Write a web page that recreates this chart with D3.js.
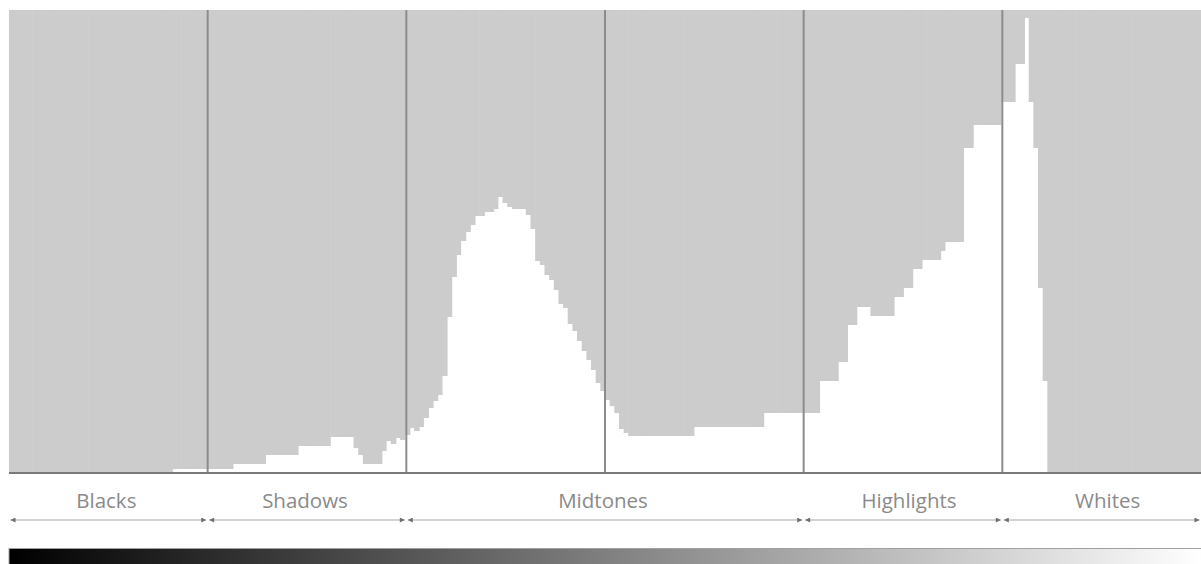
<!DOCTYPE html>
<html><head><meta charset="utf-8">
<script src="https://cdn.jsdelivr.net/npm/d3@7"></script>
<style>html,body{margin:0;padding:0;background:#fff;}svg{display:block;}</style>
</head><body>
<script>
// Histogram counts for tonal levels 0..255 (relative heights)
const counts = [
0,0,0,0,0,0,0,0,0,0,0,0,0,0,0,0,
0,0,0,0,0,0,0,0,0,0,0,0,0,0,0,0,
0,0,0,4,4,4,4,4,4,4,4,4,4,4,4,4,
9,9,9,9,9,9,9,18,18,18,18,18,18,18,27,27,
27,27,27,27,27,36,36,36,36,36,25,18,9,9,9,9,
22,32,29,35,33,38,45,42,46,55,65,72,78,97,156,196,
218,232,241,248,257,257,261,261,264,276,270,266,264,264,264,258,
244,212,208,198,193,183,169,165,149,142,132,122,113,103,90,82,
73,67,60,44,40,37,37,37,37,37,37,37,37,37,37,37,
37,37,37,46,46,46,46,46,46,46,46,46,46,46,46,46,
46,46,60,60,60,60,60,60,60,60,60,60,60,60,92,92,
92,92,111,111,148,148,166,166,166,157,157,157,157,157,176,176,
185,185,204,204,213,213,213,213,222,231,231,231,231,325,325,348,
348,348,348,348,348,371,371,371,409,409,455,371,325,185,92,0,
0,0,0,0,0,0,0,0,0,0,0,0,0,0,0,0,
0,0,0,0,0,0,0,0,0,0,0,0,0,0,0,0
];
const levels = counts.map((_, i) => i);
const yMax = 463;
// tonal zones in sixths of the range
const zoneNames = ["Blacks", "Shadows", "Midtones", "Highlights", "Whites"];
const zoneStarts = [0, 1, 2, 4, 5];
const zoneEnds   = [1, 2, 4, 5, 6];
const dividers   = [1, 2, 3, 4, 5];

const W = 1201, H = 564;
const mLeft = 9, mRight = 1201, mTop = 10, mBase = 473;

const svg = d3.select("body").append("svg").attr("width", W).attr("height", H);

const x = d3.scaleBand().domain(levels).range([mLeft, mRight]).padding(0);
const y = d3.scaleLinear().domain([0, yMax]).range([mBase, mTop]);
const z = d3.scaleLinear().domain([0, 6]).range([mLeft, mRight]);

// gray empty area above each bar (white bars show through); overlap keeps seams very faint
svg.append("g").selectAll("rect").data(counts).join("rect")
  .attr("x", (d, i) => x(i))
  .attr("width", (d, i) => x.bandwidth() + (i % 4 === 0 ? 0.5 : 0.9))
  .attr("y", mTop)
  .attr("height", d => y(d) - mTop)
  .attr("fill", "#cccccc");

// divider lines
svg.append("g").selectAll("line").data(dividers).join("line")
  .attr("x1", d => z(d)).attr("x2", d => z(d))
  .attr("y1", mTop).attr("y2", mBase)
  .attr("stroke", "#8c8c8c").attr("stroke-width", 2);

// baseline
svg.append("line").attr("x1", mLeft).attr("x2", mRight)
  .attr("y1", mBase).attr("y2", mBase)
  .attr("stroke", "#7a7a7a").attr("stroke-width", 2);

// arrowhead markers
const defs = svg.append("defs");
defs.append("marker").attr("id", "arrEnd").attr("viewBox", "0 0 10 10")
  .attr("refX", 10).attr("refY", 5).attr("markerWidth", 6).attr("markerHeight", 5)
  .attr("markerUnits", "userSpaceOnUse").attr("orient", "auto")
  .append("path").attr("d", "M0,0L10,5L0,10Z").attr("fill", "#6e6e6e");
defs.append("marker").attr("id", "arrStart").attr("viewBox", "0 0 10 10")
  .attr("refX", 0).attr("refY", 5).attr("markerWidth", 6).attr("markerHeight", 5)
  .attr("markerUnits", "userSpaceOnUse").attr("orient", "auto")
  .append("path").attr("d", "M10,0L0,5L10,10Z").attr("fill", "#6e6e6e");

const zones = zoneNames.map((n, i) => ({name: n, s: zoneStarts[i], e: zoneEnds[i]}));
const zg = svg.append("g").selectAll("g").data(zones).join("g");
zg.append("line")
  .attr("x1", d => z(d.s) + 1.5).attr("x2", d => Math.min(z(d.e), mRight) - 1.5)
  .attr("y1", 520).attr("y2", 520)
  .attr("stroke", "#a8a8a8").attr("stroke-width", 1.2)
  .attr("marker-start", "url(#arrStart)").attr("marker-end", "url(#arrEnd)");
zg.append("text")
  .attr("x", (d, i) => (z(d.s) + z(d.e)) / 2 + (i >= 3 ? 6 : -2))
  .attr("y", 507.5)
  .attr("text-anchor", "middle")
  .attr("font-family", "'Open Sans', 'Noto Sans', sans-serif")
  .attr("font-size", 20.5)
  .attr("fill", "#8a8a8a")
  .text(d => d.name);

// gradient bar
const grad = defs.append("linearGradient").attr("id", "tone")
  .attr("x1", "0%").attr("x2", "100%").attr("y1", "0%").attr("y2", "0%");
grad.append("stop").attr("offset", "0%").attr("stop-color", "#000");
grad.append("stop").attr("offset", "100%").attr("stop-color", "#fff");
svg.append("rect").attr("x", mLeft).attr("y", 548.5)
  .attr("width", mRight - mLeft + 2).attr("height", 20)
  .attr("fill", "url(#tone)").attr("stroke", "#a0a0a0").attr("stroke-width", 1);
</script>
</body></html>
